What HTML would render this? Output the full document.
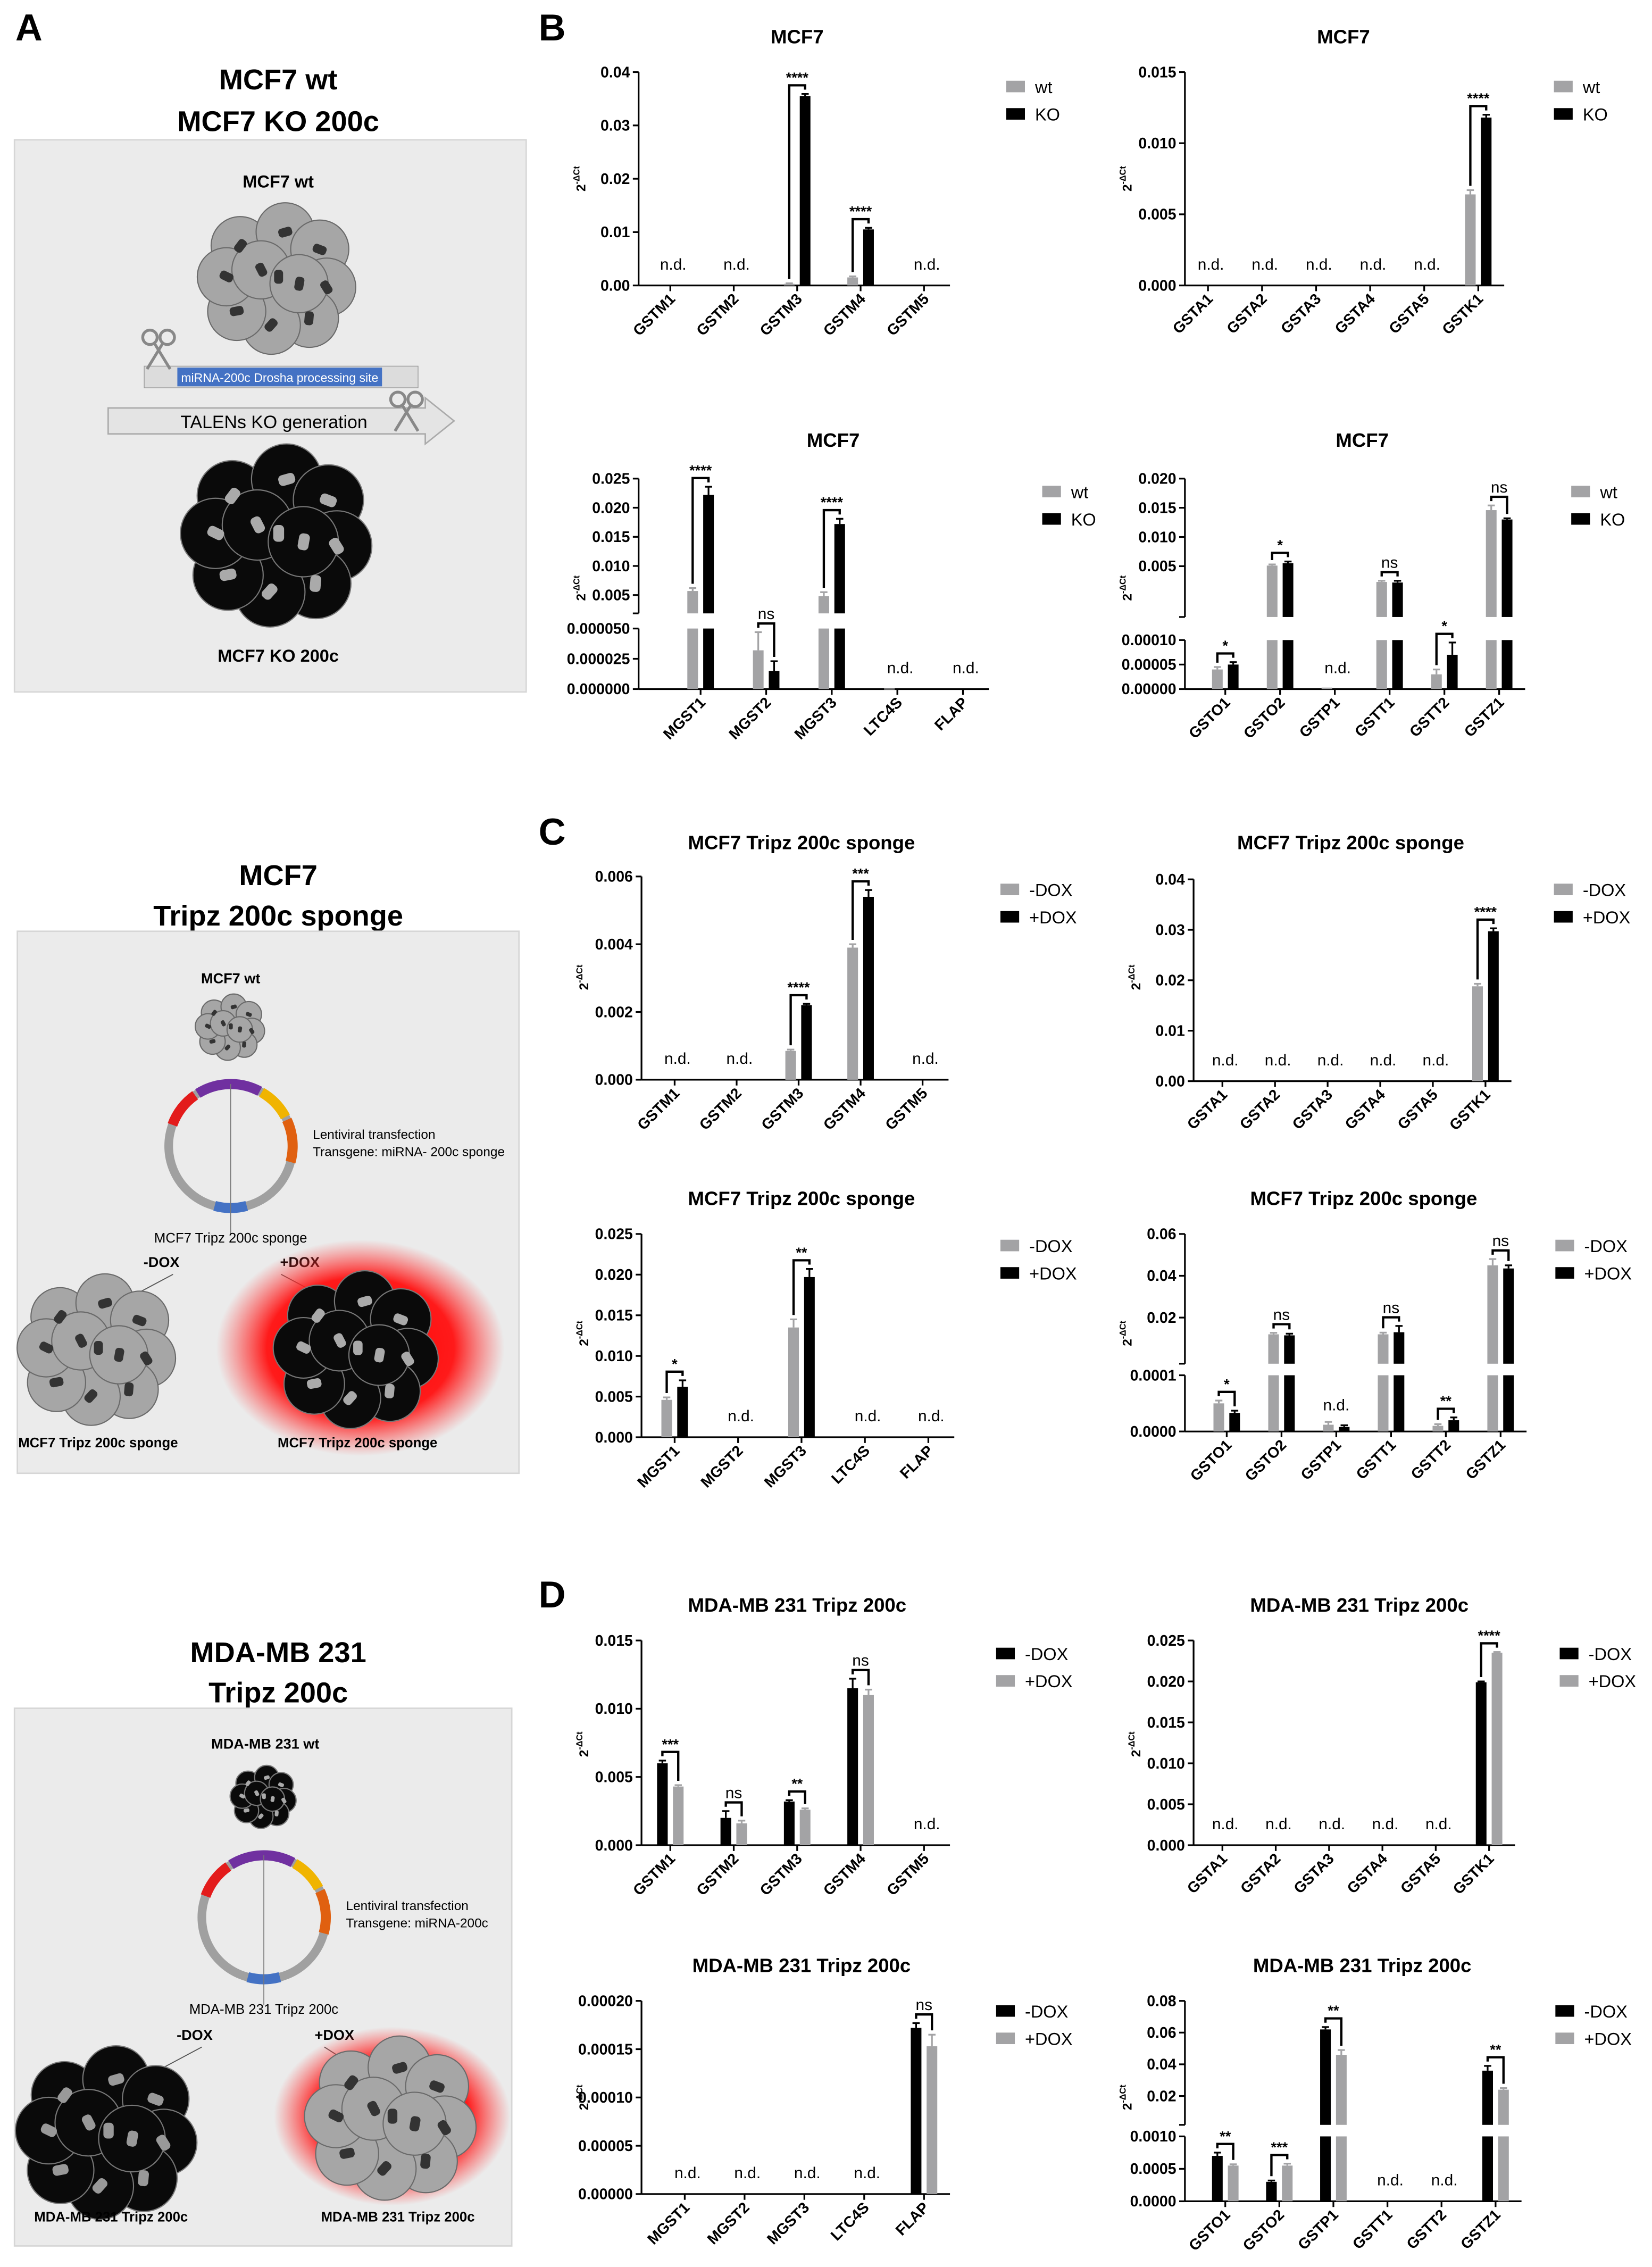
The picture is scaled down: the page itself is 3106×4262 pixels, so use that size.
<!DOCTYPE html>
<html><head><meta charset="utf-8"><style>
html,body{margin:0;padding:0;background:#fff}
svg{display:block}
text{font-family:"Liberation Sans",Arial,sans-serif}
</style></head><body>
<svg id="fig" width="3106" height="4262" viewBox="0 0 1146 1572.6" xmlns="http://www.w3.org/2000/svg">
<defs>
<radialGradient id="glow" cx="50%" cy="50%" r="50%">
<stop offset="0%" stop-color="#ff0000"/><stop offset="65%" stop-color="#ff1a1a"/><stop offset="100%" stop-color="#ff4040" stop-opacity="0"/>
</radialGradient>
</defs>
<g id="left"></g>
<g id="charts"></g>
</svg>
<script>
// ---------- DATA ----------
const b1_cats=['GSTM1','GSTM2','GSTM3','GSTM4','GSTM5'];
const b1_s1=[null,null,0.0003,0.0015,null];
const b1_s2=[null,null,0.0355,0.0105,null];
const b1_e1=[0,0,0.0001,0.0002,0];
const b1_e2=[0,0,0.0004,0.0003,0];
const b1_sig=[null,null,'****','****',null];
const b1_nd=[true,true,false,false,true];
const b1_ticks=[0,0.01,0.02,0.03,0.04];
const b1_tickLabels=['0.00','0.01','0.02','0.03','0.04'];

const b2_cats=['GSTA1','GSTA2','GSTA3','GSTA4','GSTA5','GSTK1'];
const b2_s1=[null,null,null,null,null,0.0064];
const b2_s2=[null,null,null,null,null,0.0118];
const b2_e1=[0,0,0,0,0,0.0003];
const b2_e2=[0,0,0,0,0,0.0002];
const b2_sig=[null,null,null,null,null,'****'];
const b2_nd=[true,true,true,true,true,false];
const b2_ticks=[0,0.005,0.01,0.015];
const b2_tickLabels=['0.000','0.005','0.010','0.015'];

const b3_cats=['MGST1','MGST2','MGST3','LTC4S','FLAP'];
const b3_s1=[0.0057,0.000032,0.0048,0.0000005,null];
const b3_s2=[0.0222,0.000015,0.0172,null,0.0000005];
const b3_e1=[0.0005,0.000015,0.0007,0,0];
const b3_e2=[0.0014,0.000008,0.0009,0,0];
const b3_sig=['****','ns','****',null,null];
const b3_nd=[false,false,false,true,true];
const b3_loTicks=[0,0.000025,0.00005];
const b3_loLabels=['0.000000','0.000025','0.000050'];
const b3_hiTicks=[0.005,0.01,0.015,0.02,0.025];
const b3_hiLabels=['0.005','0.010','0.015','0.020','0.025'];

const b4_cats=['GSTO1','GSTO2','GSTP1','GSTT1','GSTT2','GSTZ1'];
const b4_s1=[0.00004,0.0051,0.000003,0.0023,0.00003,0.0146];
const b4_s2=[0.00005,0.0055,null,0.0022,0.00007,0.0130];
const b4_e1=[0.000005,0.0002,0,0.0002,0.00001,0.0008];
const b4_e2=[0.000005,0.0003,0,0.0003,0.000025,0.0002];
const b4_sig=['*','*',null,'ns','*','ns'];
const b4_nd=[false,false,true,false,false,false];
const b4_loTicks=[0,0.00005,0.0001];
const b4_loLabels=['0.00000','0.00005','0.00010'];
const b4_hiTicks=[0.005,0.01,0.015,0.02];
const b4_hiLabels=['0.005','0.010','0.015','0.020'];

const c1_cats=['GSTM1','GSTM2','GSTM3','GSTM4','GSTM5'];
const c1_s1=[null,null,0.00085,0.0039,null];
const c1_s2=[null,0.00002,0.0022,0.0054,null];
const c1_e1=[0,0,0.00004,0.0001,0];
const c1_e2=[0,0,0.00004,0.0002,0];
const c1_sig=[null,null,'****','***',null];
const c1_nd=[true,true,false,false,true];
const c1_ticks=[0,0.002,0.004,0.006];
const c1_tickLabels=['0.000','0.002','0.004','0.006'];

const c2_cats=['GSTA1','GSTA2','GSTA3','GSTA4','GSTA5','GSTK1'];
const c2_s1=[null,null,null,null,null,0.0188];
const c2_s2=[null,null,null,null,null,0.0297];
const c2_e1=[0,0,0,0,0,0.0005];
const c2_e2=[0,0,0,0,0,0.0006];
const c2_sig=[null,null,null,null,null,'****'];
const c2_nd=[true,true,true,true,true,false];
const c2_ticks=[0,0.01,0.02,0.03,0.04];
const c2_tickLabels=['0.00','0.01','0.02','0.03','0.04'];

const c3_cats=['MGST1','MGST2','MGST3','LTC4S','FLAP'];
const c3_s1=[0.0046,null,0.0135,null,null];
const c3_s2=[0.0062,null,0.0197,null,null];
const c3_e1=[0.0003,0,0.0010,0,0];
const c3_e2=[0.0008,0,0.0010,0,0];
const c3_sig=['*',null,'**',null,null];
const c3_nd=[false,true,false,true,true];
const c3_ticks=[0,0.005,0.01,0.015,0.02,0.025];
const c3_tickLabels=['0.000','0.005','0.010','0.015','0.020','0.025'];

const c4_cats=['GSTO1','GSTO2','GSTP1','GSTT1','GSTT2','GSTZ1'];
const c4_s1=[0.00005,0.012,0.000012,0.012,0.00001,0.045];
const c4_s2=[0.000033,0.0115,0.000008,0.013,0.00002,0.0435];
const c4_e1=[0.000005,0.0007,0.000005,0.0008,0.000003,0.003];
const c4_e2=[0.000004,0.0008,0.000003,0.003,0.000005,0.0015];
const c4_sig=['*','ns','n.d.','ns','**','ns'];
const c4_nd=[false,false,false,false,false,false];
const c4_loTicks=[0,0.0001];
const c4_loLabels=['0.0000','0.0001'];
const c4_hiTicks=[0.02,0.04,0.06];
const c4_hiLabels=['0.02','0.04','0.06'];

const d1_cats=['GSTM1','GSTM2','GSTM3','GSTM4','GSTM5'];
const d1_s1=[0.0060,0.0020,0.0032,0.0115,null];
const d1_s2=[0.0043,0.0016,0.0026,0.0110,null];
const d1_e1=[0.0002,0.0005,0.0001,0.0007,0];
const d1_e2=[0.0001,0.0002,0.0001,0.0004,0];
const d1_sig=['***','ns','**','ns',null];
const d1_nd=[false,false,false,false,true];
const d1_ticks=[0,0.005,0.01,0.015];
const d1_tickLabels=['0.000','0.005','0.010','0.015'];

const d2_cats=['GSTA1','GSTA2','GSTA3','GSTA4','GSTA5','GSTK1'];
const d2_s1=[null,null,null,null,null,0.0199];
const d2_s2=[null,null,null,null,null,0.0235];
const d2_e1=[0,0,0,0,0,0.0001];
const d2_e2=[0,0,0,0,0,0.0001];
const d2_sig=[null,null,null,null,null,'****'];
const d2_nd=[true,true,true,true,true,false];
const d2_ticks=[0,0.005,0.01,0.015,0.02,0.025];
const d2_tickLabels=['0.000','0.005','0.010','0.015','0.020','0.025'];

const d3_cats=['MGST1','MGST2','MGST3','LTC4S','FLAP'];
const d3_s1=[null,null,null,null,0.000172];
const d3_s2=[null,null,null,null,0.000153];
const d3_e1=[0,0,0,0,0.000005];
const d3_e2=[0,0,0,0,0.000012];
const d3_sig=[null,null,null,null,'ns'];
const d3_nd=[true,true,true,true,false];
const d3_ticks=[0,0.00005,0.0001,0.00015,0.0002];
const d3_tickLabels=['0.00000','0.00005','0.00010','0.00015','0.00020'];

const d4_cats=['GSTO1','GSTO2','GSTP1','GSTT1','GSTT2','GSTZ1'];
const d4_s1=[0.0007,0.0003,0.062,null,null,0.036];
const d4_s2=[0.00055,0.00055,0.046,null,null,0.024];
const d4_e1=[0.00005,0.00002,0.0015,0,0,0.003];
const d4_e2=[0.00002,0.00003,0.003,0,0,0.001];
const d4_sig=['**','***','**',null,null,'**'];
const d4_nd=[false,false,false,true,true,false];
const d4_loTicks=[0,0.0005,0.001];
const d4_loLabels=['0.0000','0.0005','0.0010'];
const d4_hiTicks=[0.02,0.04,0.06,0.08];
const d4_hiLabels=['0.02','0.04','0.06','0.08'];

// ---------- RENDER ----------
const NS='http://www.w3.org/2000/svg';
function mk(tag,attrs,parent){const e=document.createElementNS(NS,tag);for(const k in attrs)e.setAttribute(k,attrs[k]);parent.appendChild(e);return e;}
function txt(s,attrs,parent){const e=mk('text',attrs,parent);e.textContent=s;return e;}
const GRAY='#a3a3a5',BLACK='#000';
const root=document.getElementById('charts');

function chart(c){
  const g=mk('g',{},root);
  
  
  let y;
  if(!c.broken){
    y=v=>c.y0-v/c.max*(c.y0-c.top);
  }else{
    y=v=>v<=c.loMax? c.y0-v/c.loMax*(c.y0-c.loTop) : c.hiZero-v/c.hiMax*(c.hiZero-c.hiTop);
  }
  const xEnd=c.first+c.step*(c.cats.length-1)+18;
  const t=txt(c.title,{x:c.tx,y:c.ty,'font-size':13.5,'font-weight':'bold','text-anchor':'middle'},g);
  
  
  const yl=mk('text',{x:0,y:0,'font-size':9,'font-weight':'bold','text-anchor':'middle',transform:`translate(${c.ax-37},${c.ylY}) rotate(-90)`},g);
  
  
  yl.textContent='2';
  const sp=mk('tspan',{'font-size':6,dy:-4},yl);sp.textContent='-ΔCt';
  const ax=mk('g',{stroke:'#000','stroke-width':1.2,fill:'none'},g);
  
  
  const tickG=mk('g',{'font-size':10.5,'font-weight':'bold','text-anchor':'end'},g);
  
  
  function ticks(vals,labels){vals.forEach((v,i)=>{const yy=y(v);mk('line',{x1:c.ax-4,x2:c.ax,y1:yy,y2:yy},ax);const tl=txt(labels[i],{x:c.ax-6,y:yy+3.6},tickG);});}
  if(!c.broken){
    mk('line',{x1:c.ax,x2:c.ax,y1:c.top,y2:c.y0},ax);
    ticks(c.ticks,c.tickLabels);
  }else{
    mk('line',{x1:c.ax,x2:c.ax,y1:c.loTop,y2:c.y0},ax);
    mk('line',{x1:c.ax,x2:c.ax,y1:c.hiTop,y2:c.hiBot},ax);
    mk('line',{x1:c.ax-4,x2:c.ax,y1:c.hiBot,y2:c.hiBot},ax);
    ticks(c.loTicks,c.loLabels);ticks(c.hiTicks,c.hiLabels);
  }
  const xa=mk('line',{x1:c.ax,x2:xEnd,y1:c.y0,y2:c.y0,stroke:'#000','stroke-width':1.2},g);
  
  
  const cols=c.colors;
  c.cats.forEach((cat,i)=>{
    const cx=c.first+c.step*i;
    mk('line',{x1:cx,x2:cx,y1:c.y0,y2:c.y0+4,stroke:'#000','stroke-width':1.2},g);
    const cl=txt(cat,{x:0,y:0,'font-size':10.5,'font-weight':'bold','text-anchor':'end',transform:`translate(${cx+4},${c.y0+10}) rotate(-45)`},g);
    
    
    const series=[[c.s1,c.e1,cx-9.2],[c.s2,c.e2,cx+1.8]];
    let topY=Infinity;
    series.forEach((s,k)=>{
      const v=s[0][i];if(v==null)return;
      const bx=s[2],bw=7.4,yy=y(v);
      const ebY=y(v+s[1][i]);
      const color=cols[k];
      if(c.broken && v>c.loMax){
        const r1=mk('rect',{x:bx,y:c.loTop,width:bw,height:c.y0-c.loTop,fill:color},g);
        
        
        const r2=mk('rect',{x:bx,y:yy,width:bw,height:Math.max(0,c.hiBot-yy),fill:color},g);
        
        
      }else{
        const r=mk('rect',{x:bx,y:yy,width:bw,height:Math.max(0.8,c.y0-yy),fill:color},g);
        
        
      }
      if(s[1][i]>0){
        mk('line',{x1:bx+bw/2,x2:bx+bw/2,y1:yy,y2:ebY,stroke:color,'stroke-width':1.2},g);
        mk('line',{x1:bx+bw/2-2.5,x2:bx+bw/2+2.5,y1:ebY,y2:ebY,stroke:color,'stroke-width':1.2},g);
      }
      topY=Math.min(topY,ebY,yy);
    });
    if(c.nd[i]){
      const n=txt('n.d.',{x:cx+2,y:c.y0-11,'font-size':11,'text-anchor':'middle'},g);
      
      
    }
    const sg=c.sig[i];
    if(sg==='n.d.'){
      const n=txt('n.d.',{x:cx,y:topY-8,'font-size':11,'text-anchor':'middle'},g);
      
      
    }else if(sg){
      const by=topY-6;
      const y1=y(c.s1[i]+c.e1[i])-3,y2=y(c.s2[i]+c.e2[i])-3;
      const br=mk('path',{d:`M${cx-5.5},${Math.max(by,y1)}V${by}H${cx+5.5}V${Math.max(by,y2)}`,stroke:'#000','stroke-width':1.6,fill:'none'},g);
      
      
      const st=txt(sg,{x:cx,y:sg==='ns'?by-3:by-2,'font-size':sg==='ns'?11:10,'font-weight':sg==='ns'?'normal':'bold','text-anchor':'middle'},g);
      
      
    }
  });
  c.legend.forEach((l,k)=>{
    const lg=mk('g',{},g);
    
    
    mk('rect',{x:c.lx,y:c.ly+k*19-5,width:13,height:8,fill:cols[k]},lg);
    txt(l,{x:c.lx+20,y:c.ly+k*19+3.5,'font-size':12},lg);
  });
}

const GB=[GRAY,BLACK],BG=[BLACK,GRAY],WK=['wt','KO'],DX=['-DOX','+DOX'];
chart({name:'chart-b-gstm',title:'MCF7',tx:553,ty:30,ax:443,first:465,step:44,y0:198,top:50,max:0.04,ticks:b1_ticks,tickLabels:b1_tickLabels,cats:b1_cats,s1:b1_s1,s2:b1_s2,e1:b1_e1,e2:b1_e2,sig:b1_sig,nd:b1_nd,colors:GB,legend:WK,lx:698,ly:61,ylY:124});
chart({name:'chart-b-gsta',title:'MCF7',tx:932,ty:30,ax:822,first:838,step:37.5,y0:198,top:50,max:0.015,ticks:b2_ticks,tickLabels:b2_tickLabels,cats:b2_cats,s1:b2_s1,s2:b2_s2,e1:b2_e1,e2:b2_e2,sig:b2_sig,nd:b2_nd,colors:GB,legend:WK,lx:1078,ly:61,ylY:124});
chart({name:'chart-b-mgst',title:'MCF7',tx:578,ty:310,ax:443,first:486,step:45.5,broken:true,y0:478,loTop:436,loMax:0.00005,hiZero:433,hiTop:332,hiMax:0.025,hiBot:425.5,loTicks:b3_loTicks,loLabels:b3_loLabels,hiTicks:b3_hiTicks,hiLabels:b3_hiLabels,cats:b3_cats,s1:b3_s1,s2:b3_s2,e1:b3_e1,e2:b3_e2,sig:b3_sig,nd:b3_nd,colors:GB,legend:WK,lx:723,ly:342,ylY:408});
chart({name:'chart-b-gsto',title:'MCF7',tx:945,ty:310,ax:822,first:850,step:38,broken:true,y0:478,loTop:444,loMax:0.0001,hiZero:413,hiTop:332,hiMax:0.02,hiBot:428,loTicks:b4_loTicks,loLabels:b4_loLabels,hiTicks:b4_hiTicks,hiLabels:b4_hiLabels,cats:b4_cats,s1:b4_s1,s2:b4_s2,e1:b4_e1,e2:b4_e2,sig:b4_sig,nd:b4_nd,colors:GB,legend:WK,lx:1090,ly:342,ylY:408});
chart({name:'chart-c-gstm',title:'MCF7 Tripz 200c sponge',tx:556,ty:589,ax:445,first:468,step:43,y0:749,top:608,max:0.006,ticks:c1_ticks,tickLabels:c1_tickLabels,cats:c1_cats,s1:c1_s1,s2:c1_s2,e1:c1_e1,e2:c1_e2,sig:c1_sig,nd:c1_nd,colors:GB,legend:DX,lx:694,ly:618,ylY:678});
chart({name:'chart-c-gsta',title:'MCF7 Tripz 200c sponge',tx:937,ty:589,ax:828,first:848,step:36.5,y0:750,top:610,max:0.04,ticks:c2_ticks,tickLabels:c2_tickLabels,cats:c2_cats,s1:c2_s1,s2:c2_s2,e1:c2_e1,e2:c2_e2,sig:c2_sig,nd:c2_nd,colors:GB,legend:DX,lx:1078,ly:618,ylY:678});
chart({name:'chart-c-mgst',title:'MCF7 Tripz 200c sponge',tx:556,ty:836,ax:445,first:468,step:44,y0:997,top:856,max:0.025,ticks:c3_ticks,tickLabels:c3_tickLabels,cats:c3_cats,s1:c3_s1,s2:c3_s2,e1:c3_e1,e2:c3_e2,sig:c3_sig,nd:c3_nd,colors:GB,legend:DX,lx:694,ly:865,ylY:925});
chart({name:'chart-c-gsto',title:'MCF7 Tripz 200c sponge',tx:946,ty:836,ax:822,first:851,step:38,broken:true,y0:993,loTop:954,loMax:0.0001,hiZero:943,hiTop:856,hiMax:0.06,hiBot:946,loTicks:c4_loTicks,loLabels:c4_loLabels,hiTicks:c4_hiTicks,hiLabels:c4_hiLabels,cats:c4_cats,s1:c4_s1,s2:c4_s2,e1:c4_e1,e2:c4_e2,sig:c4_sig,nd:c4_nd,colors:GB,legend:DX,lx:1079,ly:865,ylY:925});
chart({name:'chart-d-gstm',title:'MDA-MB 231 Tripz 200c',tx:553,ty:1118,ax:445,first:465,step:44,y0:1280,top:1138,max:0.015,ticks:d1_ticks,tickLabels:d1_tickLabels,cats:d1_cats,s1:d1_s1,s2:d1_s2,e1:d1_e1,e2:d1_e2,sig:d1_sig,nd:d1_nd,colors:BG,legend:DX,lx:691,ly:1148,ylY:1210});
chart({name:'chart-d-gsta',title:'MDA-MB 231 Tripz 200c',tx:943,ty:1118,ax:828,first:848,step:37,y0:1280,top:1138,max:0.025,ticks:d2_ticks,tickLabels:d2_tickLabels,cats:d2_cats,s1:d2_s1,s2:d2_s2,e1:d2_e1,e2:d2_e2,sig:d2_sig,nd:d2_nd,colors:BG,legend:DX,lx:1082,ly:1148,ylY:1210});
chart({name:'chart-d-mgst',title:'MDA-MB 231 Tripz 200c',tx:556,ty:1368,ax:445,first:475,step:41.5,y0:1522,top:1388,max:0.0002,ticks:d3_ticks,tickLabels:d3_tickLabels,cats:d3_cats,s1:d3_s1,s2:d3_s2,e1:d3_e1,e2:d3_e2,sig:d3_sig,nd:d3_nd,colors:BG,legend:DX,lx:691,ly:1396,ylY:1455});
chart({name:'chart-d-gsto',title:'MDA-MB 231 Tripz 200c',tx:945,ty:1368,ax:822,first:850,step:37.5,broken:true,y0:1527,loTop:1482,loMax:0.001,hiZero:1476,hiTop:1388,hiMax:0.08,hiBot:1474,loTicks:d4_loTicks,loLabels:d4_loLabels,hiTicks:d4_hiTicks,hiLabels:d4_hiLabels,cats:d4_cats,s1:d4_s1,s2:d4_s2,e1:d4_e1,e2:d4_e2,sig:d4_sig,nd:d4_nd,colors:BG,legend:DX,lx:1079,ly:1396,ylY:1455});

[['A',20,28],['B',383,28],['C',383,586],['D',383,1115]].forEach(p=>{
  const l=txt(p[0],{x:p[1],y:p[2],'font-size':26,'font-weight':'bold','text-anchor':'middle'},root);
  
  
});

// ---------- LEFT ILLUSTRATIONS ----------
const L=document.getElementById('left');
const offs=[[0,0],[-0.55,-0.45],[0.1,-0.65],[0.6,-0.4],[0.7,0.15],[0.45,0.6],[-0.1,0.7],[-0.6,0.5],[-0.75,0],[-0.25,-0.1],[0.3,0.1]];
function cluster(cx,cy,r,fill,stroke,nuc,name){
  const g=mk('g',{},L);
  
  
  offs.forEach(o=>mk('circle',{cx:cx+o[0]*r,cy:cy+o[1]*r,r:r*0.42,fill:fill,stroke:stroke,'stroke-width':0.8},g));
  offs.forEach((o,i)=>mk('rect',{x:cx+o[0]*r-r*0.06,y:cy+o[1]*r-r*0.1,width:r*0.13,height:r*0.2,rx:r*0.05,fill:nuc,transform:`rotate(${i*37} ${cx+o[0]*r} ${cy+o[1]*r})`},g));
}
function box(x,y,w,h,name){const b=mk('rect',{x:x,y:y,width:w,height:h,fill:'#ebebeb',stroke:'#d6d6d6','stroke-width':1},L);}
function lt(s,x,y,size,bold,anchor){const t=txt(s,{x:x,y:y,'font-size':size,'font-weight':bold?'bold':'normal','text-anchor':anchor||'middle'},L);return t;}
function plasmid(cx,cy,r,labelX,l1,l2,bottomLbl){
  const g=mk('g',{},L);
  
  
  mk('circle',{cx:cx,cy:cy,r:r,fill:'none',stroke:'#a0a0a0','stroke-width':6},g);
  const arc=(a1,a2,col)=>{const p=a=>[cx+r*Math.cos(a*Math.PI/180),cy+r*Math.sin(a*Math.PI/180)];const s=p(a1),e=p(a2);mk('path',{d:`M${s[0]},${s[1]}A${r},${r} 0 0 1 ${e[0]},${e[1]}`,stroke:col,'stroke-width':7,fill:'none'},g);};
  arc(-160,-125,'#e31b1b');arc(-122,-62,'#7030a0');arc(-60,-28,'#f0b400');arc(-25,15,'#e06010');arc(75,105,'#4472c4');
  mk('line',{x1:cx,y1:cy-r,x2:cx,y2:cy+r+18,stroke:'#777','stroke-width':0.6},g);
  lt(l1,labelX,cy-5,9,false,'start');lt(l2,labelX,cy+7,9,false,'start');
  lt(bottomLbl,cx,cy+r+24,9.5,false);
}

lt('MCF7 wt',193,62,20,true);lt('MCF7 KO 200c',193,91,20,true);
box(10,97,355,383,'illustration-box-a');
lt('MCF7 wt',193,130,12,true);
cluster(193,192,48,'#a6a6a6','#6a6a6a','#333','mcf7-wt-cells');
const bar=mk('rect',{x:100,y:254,width:190,height:15,fill:'#dcdcdc',stroke:'#999','stroke-width':0.5},L);
const bl=mk('rect',{x:123,y:255,width:142,height:13,fill:'#4472c4'},L);
txt('miRNA-200c Drosha processing site',{x:194,y:265,'font-size':8.5,fill:'#fff','text-anchor':'middle'},L);
const arw=mk('path',{d:'M75,283H295V276L315,292L295,308V301H75Z',fill:'#e4e4e4',stroke:'#aaa','stroke-width':1},L);
lt('TALENs KO generation',190,297,12.5,false);
[[110,240],[282,283]].forEach(p=>{const s=mk('g',{stroke:'#888','stroke-width':2,fill:'none'},L);mk('circle',{cx:p[0]-6,cy:p[1]-6,r:5},s);mk('circle',{cx:p[0]+6,cy:p[1]-6,r:5},s);mk('line',{x1:p[0]-3,y1:p[1]-2,x2:p[0]+8,y2:p[1]+16},s);mk('line',{x1:p[0]+3,y1:p[1]-2,x2:p[0]-8,y2:p[1]+16},s);});
cluster(193,370,58,'#0a0a0a','#777','#aaa','mcf7-ko-cells');
lt('MCF7 KO 200c',193,459,12,true);

lt('MCF7',193,614,20,true);lt('Tripz 200c sponge',193,642,20,true);
box(12,646,348,376,'illustration-box-c');
lt('MCF7 wt',160,682,10,true);
cluster(160,712,21,'#a6a6a6','#6a6a6a','#333','mcf7-wt-small-cells');
plasmid(160,795,43,217,'Lentiviral transfection','Transgene: miRNA- 200c sponge','MCF7 Tripz 200c sponge');
lt('-DOX',112,879,10,true);lt('+DOX',208,879,10,true);
mk('line',{x1:120,y1:884,x2:90,y2:900,stroke:'#555','stroke-width':0.7},L);
mk('line',{x1:195,y1:884,x2:225,y2:900,stroke:'#555','stroke-width':0.7},L);
cluster(68,935,48,'#a6a6a6','#6a6a6a','#333','minus-dox-cells-c');
const gl1=mk('ellipse',{cx:250,cy:935,rx:100,ry:75,fill:'url(#glow)'},L);
cluster(248,935,50,'#0a0a0a','#777','#aaa','plus-dox-cells-c');
lt('MCF7 Tripz 200c sponge',68,1004,9.5,true);lt('MCF7 Tripz 200c sponge',248,1004,9.5,true);

lt('MDA-MB 231',193,1153,20,true);lt('Tripz 200c',193,1181,20,true);
box(10,1185,345,373,'illustration-box-d');
lt('MDA-MB 231 wt',184,1213,10,true);
cluster(183,1246,20,'#0a0a0a','#777','#aaa','mda-wt-cells');
plasmid(183,1330,43,240,'Lentiviral transfection','Transgene: miRNA-200c','MDA-MB 231 Tripz 200c');
lt('-DOX',135,1415,10,true);lt('+DOX',232,1415,10,true);
mk('line',{x1:140,y1:1420,x2:110,y2:1436,stroke:'#555','stroke-width':0.7},L);
mk('line',{x1:225,y1:1420,x2:250,y2:1436,stroke:'#555','stroke-width':0.7},L);
cluster(75,1478,55,'#0a0a0a','#777','#999','minus-dox-cells-d');
const gl2=mk('ellipse',{cx:272,cy:1468,rx:82,ry:62,fill:'url(#glow)'},L);
cluster(272,1468,52,'#a6a6a6','#6a6a6a','#333','plus-dox-cells-d');
lt('MDA-MB 231 Tripz 200c',77,1541,9.5,true);lt('MDA-MB 231 Tripz 200c',276,1541,9.5,true);
</script>
</body></html>
